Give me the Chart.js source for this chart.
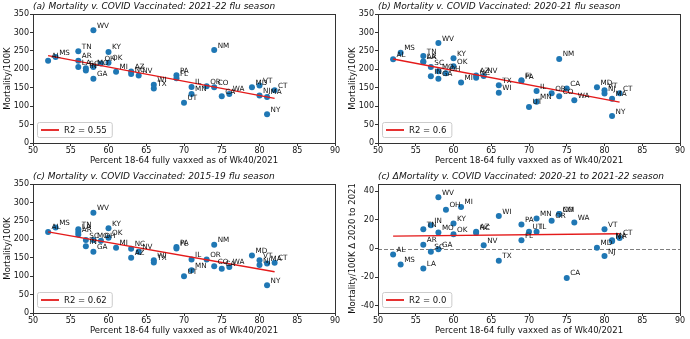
<!DOCTYPE html>
<html>
<head>
<meta charset="utf-8">
<script src="https://cdn.jsdelivr.net/npm/chart.js@4.4.0/dist/chart.umd.min.js"></script>
<style>
  html, body { margin: 0; padding: 0; background: #fff; }
  #wrap { position: relative; width: 690px; height: 339px; }
  canvas { position: absolute; }
</style>
</head>
<body>
<div id="wrap">
  <canvas id="ca" width="345" height="170" style="left:0;top:0"></canvas>
  <canvas id="cb" width="345" height="170" style="left:345px;top:0"></canvas>
  <canvas id="cc" width="345" height="169" style="left:0;top:170px"></canvas>
  <canvas id="cd" width="345" height="169" style="left:345px;top:170px"></canvas>
</div>
<script>
// states and % of 18-64 fully vaccinated (Wk40/2021)
const states = ['AL','MS','LA','AR','TN','IN','SC','GA','MO','WV','OH','KY','OK','MI','AZ','NC','NV','WI','TX','PA','FL','UT','IL','MN','OR','CO','NM','CA','WA','MD','VT','NJ','MA','CT','NY'];
const vaxPct = [52,53,56,56,56,57,57,58,58,58,59,60,60,61,63,63,64,66,66,69,69,70,71,71,73,74,74,75,76,79,80,80,81,82,81];

// mortality per 100K
const mort2122 = [223,233,206,223,249,197,203,174,206,306,216,247,218,193,194,187,183,158,148,184,176,109,152,133,154,151,252,127,133,151,156,129,125,143,78];
const mort2021 = [227,245,220,221,236,181,206,174,195,271,189,230,208,164,183,177,182,136,157,168,170,98,141,112,135,127,228,148,116,151,143,134,120,135,73];
const mort1519 = [220,232,220,213,227,181,198,166,198,272,196,230,204,177,150,174,166,143,137,179,175,100,145,116,145,127,185,120,125,156,143,130,134,136,75];
const mortDelta = [-4.2,-11.2,-14,2.6,13.5,16.3,-2.3,-0.5,11.2,35.8,27,17.4,10,29,11.6,10.9,2.3,22.6,-8.6,16.7,5.8,11.6,11.6,21,19.3,24,24,-20.5,18.1,0.5,13.5,-5.3,5.8,7.4,5];

// regression lines (endpoints)
const fitX = [52, 82];
const fitA = [237, 121];
const fitB = [228, 111];
const fitC = [220, 112];
const fitD = [8.6, 10.3];
const r2Labels = ['R2 = 0.55', 'R2 = 0.6', 'R2 = 0.62', 'R2 = 0.0'];

const xTicks = [50, 55, 60, 65, 70, 75, 80, 85, 90];
const yTicksMort = [0, 50, 100, 150, 200, 250, 300, 350];
const yTicksDelta = [-40, -20, 0, 20, 40];
const zeroLevel = [0];

const FONT = '"DejaVu Sans", sans-serif';
const BLUE = '#1f77b4';
const RED = '#e41a1a';

function makePanel(id, title, yVals, fitY, r2, yTicks, yMin, yMax, yTitle, withZero) {
  const canvas = document.getElementById(id);
  const H = canvas.height;

  const decor = {
    id: 'decor',
    beforeDatasetsDraw(chart) {
      if (!withZero) return;
      const { ctx, chartArea: a, scales: { y } } = chart;
      const y0 = Math.round(y.getPixelForValue(zeroLevel[0])) + 0.5;
      ctx.save();
      ctx.strokeStyle = '#7f7f7f';
      ctx.lineWidth = 1;
      ctx.setLineDash([4, 2]);
      ctx.beginPath(); ctx.moveTo(a.left, y0); ctx.lineTo(a.right, y0); ctx.stroke();
      ctx.restore();
    },
    afterDatasetsDraw(chart) {
      const { ctx, scales: { x, y } } = chart;
      ctx.save();
      ctx.font = '7.2px ' + FONT;
      ctx.fillStyle = '#111';
      states.forEach((s, i) => {
        ctx.fillText(s, x.getPixelForValue(vaxPct[i]) + 3.5, y.getPixelForValue(yVals[i]) - 2.5);
      });
      ctx.restore();
    },
    afterDraw(chart) {
      const { ctx, chartArea: a } = chart;
      ctx.save();
      // frame
      ctx.strokeStyle = '#333';
      ctx.lineWidth = 1;
      ctx.strokeRect(Math.round(a.left) + 0.5, Math.round(a.top) + 0.5,
        Math.round(a.right - a.left), Math.round(a.bottom - a.top));
      // title
      ctx.font = 'italic 9px ' + FONT;
      ctx.fillStyle = '#111';
      ctx.textBaseline = 'middle';
      ctx.fillText(title, a.left, 6.5);
      // legend
      ctx.font = '8.5px ' + FONT;
      const tw = ctx.measureText(r2).width;
      const bx = a.left + 4, bh = 15, by = a.bottom - 6 - bh, bw = 27 + tw + 5;
      ctx.beginPath();
      ctx.roundRect(bx + 0.5, by + 0.5, bw, bh, 2);
      ctx.fillStyle = 'rgba(255,255,255,0.8)';
      ctx.fill();
      ctx.strokeStyle = '#cccccc';
      ctx.stroke();
      ctx.strokeStyle = RED;
      ctx.lineWidth = 1.8;
      ctx.beginPath(); ctx.moveTo(bx + 4, by + bh / 2 + 0.5); ctx.lineTo(bx + 22, by + bh / 2 + 0.5); ctx.stroke();
      ctx.fillStyle = '#111';
      ctx.fillText(r2, bx + 27, by + bh / 2 + 1);
      ctx.restore();
    }
  };

  new Chart(canvas, {
    type: 'scatter',
    data: {
      datasets: [
        {
          type: 'line',
          data: fitX.map((x, i) => ({ x, y: fitY[i] })),
          borderColor: RED, borderWidth: 1.4, pointRadius: 0, fill: false
        },
        {
          data: vaxPct.map((x, i) => ({ x, y: yVals[i] })),
          backgroundColor: BLUE, borderWidth: 0, pointRadius: 3
        }
      ]
    },
    options: {
      responsive: false, animation: false, devicePixelRatio: 1,
      layout: { padding: { top: 14, right: 10, left: 0, bottom: 0 } },
      plugins: { legend: { display: false }, tooltip: { enabled: false } },
      scales: {
        x: {
          type: 'linear', min: 50, max: 90,
          afterBuildTicks: s => { s.ticks = xTicks.map(v => ({ value: v })); },
          afterFit: s => { s.height = H - 143; },
          grid: { drawOnChartArea: false, drawTicks: true, tickLength: 3, color: '#333' },
          border: { display: false },
          ticks: { font: { family: FONT, size: 8 }, color: '#111', padding: 0, maxRotation: 0 },
          title: { display: true, text: 'Percent 18-64 fully vaxxed as of Wk40/2021', font: { family: FONT, size: 8.5 }, color: '#111', padding: { top: 0, bottom: H === 170 ? 4 : 3 } }
        },
        y: {
          min: yMin, max: yMax,
          afterBuildTicks: s => { s.ticks = yTicks.map(v => ({ value: v })); },
          afterFit: s => { s.width = 33; },
          grid: { drawOnChartArea: false, drawTicks: true, tickLength: 3, color: '#333' },
          border: { display: false },
          ticks: { font: { family: FONT, size: 8 }, color: '#111', padding: 1 },
          title: { display: true, text: yTitle, font: { family: FONT, size: 8.5 }, color: '#111', padding: { top: 3, bottom: 0 } }
        }
      }
    },
    plugins: [decor]
  });
}

makePanel('ca', '(a) Mortality v. COVID Vaccinated: 2021-22 flu season', mort2122, fitA, r2Labels[0], yTicksMort, 0, 350, 'Mortality/100K', false);
makePanel('cb', '(b) Mortality v. COVID Vaccinated: 2020-21 flu season', mort2021, fitB, r2Labels[1], yTicksMort, 0, 350, 'Mortality/100K', false);
makePanel('cc', '(c) Mortality v. COVID Vaccinated: 2015-19 flu season', mort1519, fitC, r2Labels[2], yTicksMort, 0, 350, 'Mortality/100K', false);
makePanel('cd', '(c) \u0394Mortality v. COVID Vaccinated: 2020-21 to 2021-22 season', mortDelta, fitD, r2Labels[3], yTicksDelta, -45, 45, 'Mortality/100K \u0394 2020 to 2021', true);
</script>
</body>
</html>
